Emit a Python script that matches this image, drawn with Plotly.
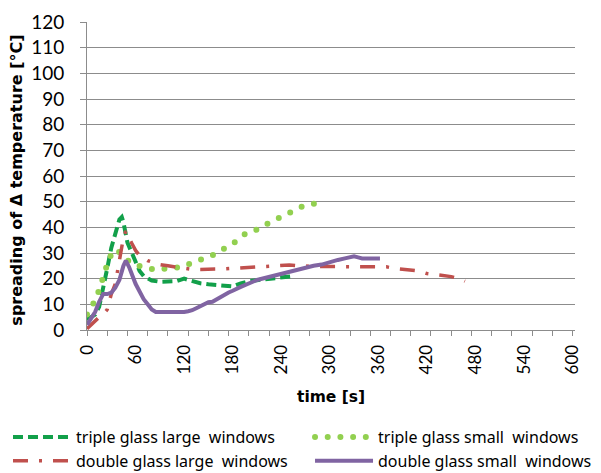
import plotly.graph_objects as go

# time axis [s] and spreading of the temperature difference [°C] for each case
t_triple_large = [0, 5, 10, 15, 20, 25, 30, 35, 40, 43, 45, 50, 55, 60, 65, 70, 75, 80, 90, 100,
                  110, 120, 130, 140, 150, 160, 170, 180, 190, 200, 210, 220, 230, 240, 250, 255]
v_triple_large = [4, 5, 6, 9, 16, 24, 32, 38, 43, 44, 42, 34, 30, 26, 23, 21, 20, 19.3, 18.8, 18.8,
                  19, 20, 19, 18.2, 17.8, 17.5, 17.2, 17, 18.2, 19, 19.4, 19.7, 20, 20.3, 20.8, 21]

t_triple_small = [0, 3, 11, 16, 20, 26, 32, 38, 45, 57, 70, 85, 100, 115, 130, 145, 159, 172,
                  185, 197, 212, 225, 240, 254, 268, 283]
v_triple_small = [6, 7.8, 12, 16.6, 21.4, 26.6, 30.9, 31, 28.3, 25.7, 24.4, 23.4, 24, 24.4, 26.2,
                  28.2, 29.6, 32.2, 34.7, 37.9, 39.3, 41.8, 43.9, 46.4, 48.4, 49.3]

t_double_large = [0, 5, 10, 15, 20, 25, 30, 35, 40, 45, 48, 50, 55, 60, 65, 70, 75, 80, 90, 100,
                  110, 120, 130, 140, 150, 160, 170, 180, 190, 200, 210, 220, 230, 240, 250, 260,
                  270, 280, 290, 300, 310, 320, 330, 340, 350, 360, 370, 380, 390, 400, 410, 420,
                  430, 440, 450, 460, 467]
v_double_large = [0.5, 2, 3.5, 5, 6, 8, 14, 18, 27, 36, 38.5, 37, 34, 31, 29, 28, 27, 26.5, 25.5, 25,
                  24.5, 24, 23.6, 23.6, 23.6, 23.6, 23.8, 24, 24.2, 24.4, 24.5, 24.7, 25, 25.2, 25.3, 25,
                  24.8, 24.8, 24.7, 24.7, 24.7, 24.7, 24.5, 24.4, 24.6, 24.7, 24.6, 24, 23.6, 23.4, 23, 22,
                  21.6, 21.3, 20.8, 20, 19]

t_double_small = [0, 5, 10, 15, 20, 25, 30, 35, 40, 45, 48, 52, 56, 60, 65, 70, 75, 80, 85, 90,
                  95, 100, 105, 110, 115, 120, 125, 130, 135, 140, 145, 150, 155, 160, 165, 170,
                  175, 180, 185, 190, 195, 200, 205, 210, 220, 230, 240, 250, 260, 270, 280, 290,
                  300, 310, 320, 330, 335, 340, 350, 362]
v_double_small = [2, 4.5, 7, 11, 14, 14, 14.5, 16.5, 19.5, 25, 27, 24.5, 21, 18, 15, 12, 10, 8, 7, 7,
                  7.2, 7.2, 7, 6.9, 6.9, 7, 7.3, 7.7, 8.5, 9.2, 10.3, 10.8, 11, 12, 13, 13.8,
                  14.6, 15.3, 16.2, 16.8, 17.5, 18, 18.8, 19.5, 20.3, 21.2, 22, 22.6, 23.3, 24, 25, 25.5,
                  26.5, 27.3, 28, 28.7, 28.3, 27.9, 27.9, 27.9]

x_ticks = list(range(0, 601, 60))
y_ticks = list(range(0, 121, 10))

TICK_FONT = "Lato"
TEXT_FONT = "Noto Sans"
TITLE_FONT = "DejaVu Sans"
GRID = "#8c8c8c"
NB = "\u00a0"

fig = go.Figure()
fig.add_trace(go.Scatter(x=t_triple_large, y=v_triple_large, mode="lines",
                         name=f"triple glass large{NB} windows", legend="legend",
                         line=dict(color="#12a04a", width=4, dash="10px,5px")))
fig.add_trace(go.Scatter(x=t_triple_small, y=v_triple_small, mode="lines",
                         name=f"triple glass small{NB} windows", legend="legend2",
                         line=dict(color="#92d050", width=6, dash="0px,12.7px")))
fig.add_trace(go.Scatter(x=t_double_large, y=v_double_large, mode="lines",
                         name=f"double glass large{NB} windows", legend="legend",
                         line=dict(color="#c0504d", width=3.5, dash="15px,11px,3px,11px")))
fig.add_trace(go.Scatter(x=t_double_small, y=v_double_small, mode="lines",
                         name=f"double glass small{NB} windows", legend="legend2",
                         line=dict(color="#8064a2", width=4)))

legend_common = dict(orientation="v", xref="paper", yref="paper",
                     xanchor="left", yanchor="bottom", y=-0.481, itemwidth=58,
                     font=dict(family=TEXT_FONT, size=16), tracegroupgap=0,
                     bgcolor="rgba(0,0,0,0)")

fig.update_layout(
    width=601, height=473,
    margin=dict(l=87, r=26, t=22, b=143, autoexpand=False),
    paper_bgcolor="white", plot_bgcolor="white",
    font=dict(family=TEXT_FONT, color="black"),
    showlegend=True,
    legend=dict(x=-0.1619, **legend_common),
    legend2=dict(x=0.457, **legend_common),
    annotations=[
        dict(text="<b>time [s]</b>", xref="paper", yref="paper", x=0.5, y=-0.2175,
             xanchor="center", yanchor="middle", showarrow=False,
             font=dict(family=TITLE_FONT, size=15.5)),
        dict(text="<b>spreading of Δ temperature [°C]</b>", xref="paper", yref="paper",
             x=-0.1434, y=0.485, xanchor="center", yanchor="middle", textangle=-90,
             showarrow=False, font=dict(family=TITLE_FONT, size=16)),
    ],
)

fig.update_xaxes(
    range=[0, 603], tickvals=x_ticks, ticktext=[str(v) for v in x_ticks],
    tickangle=-90, ticks="", tickfont=dict(family=TICK_FONT, size=17),
    ticklabelstandoff=7,
    showgrid=False, zeroline=False,
    showline=True, linecolor=GRID, linewidth=1,
    minor=dict(ticks="outside", dtick=25, tick0=0, ticklen=5, tickcolor=GRID, showgrid=False),
)
fig.update_yaxes(
    range=[0, 120], tickvals=y_ticks, ticks="outside", ticklen=6, tickcolor=GRID,
    tickfont=dict(family=TICK_FONT, size=19), ticklabelstandoff=12,
    showgrid=True, gridcolor=GRID, gridwidth=1, zeroline=False,
    showline=True, linecolor=GRID, linewidth=1,
)

# round caps turn the zero-length dashes into circular dots
post = """
var gd = document.getElementById('{plot_id}');
function roundDots(){
  gd.querySelectorAll('path').forEach(function(p){
    var d = (p.style.strokeDasharray || p.getAttribute('stroke-dasharray') || '').trim();
    if (/^0(px)?[ ,]/.test(d)) { p.style.strokeLinecap = 'round'; }
  });
}
roundDots();
gd.on('plotly_afterplot', roundDots);
setTimeout(roundDots, 50);
"""

fig.write_html("out.html", post_script=post)
